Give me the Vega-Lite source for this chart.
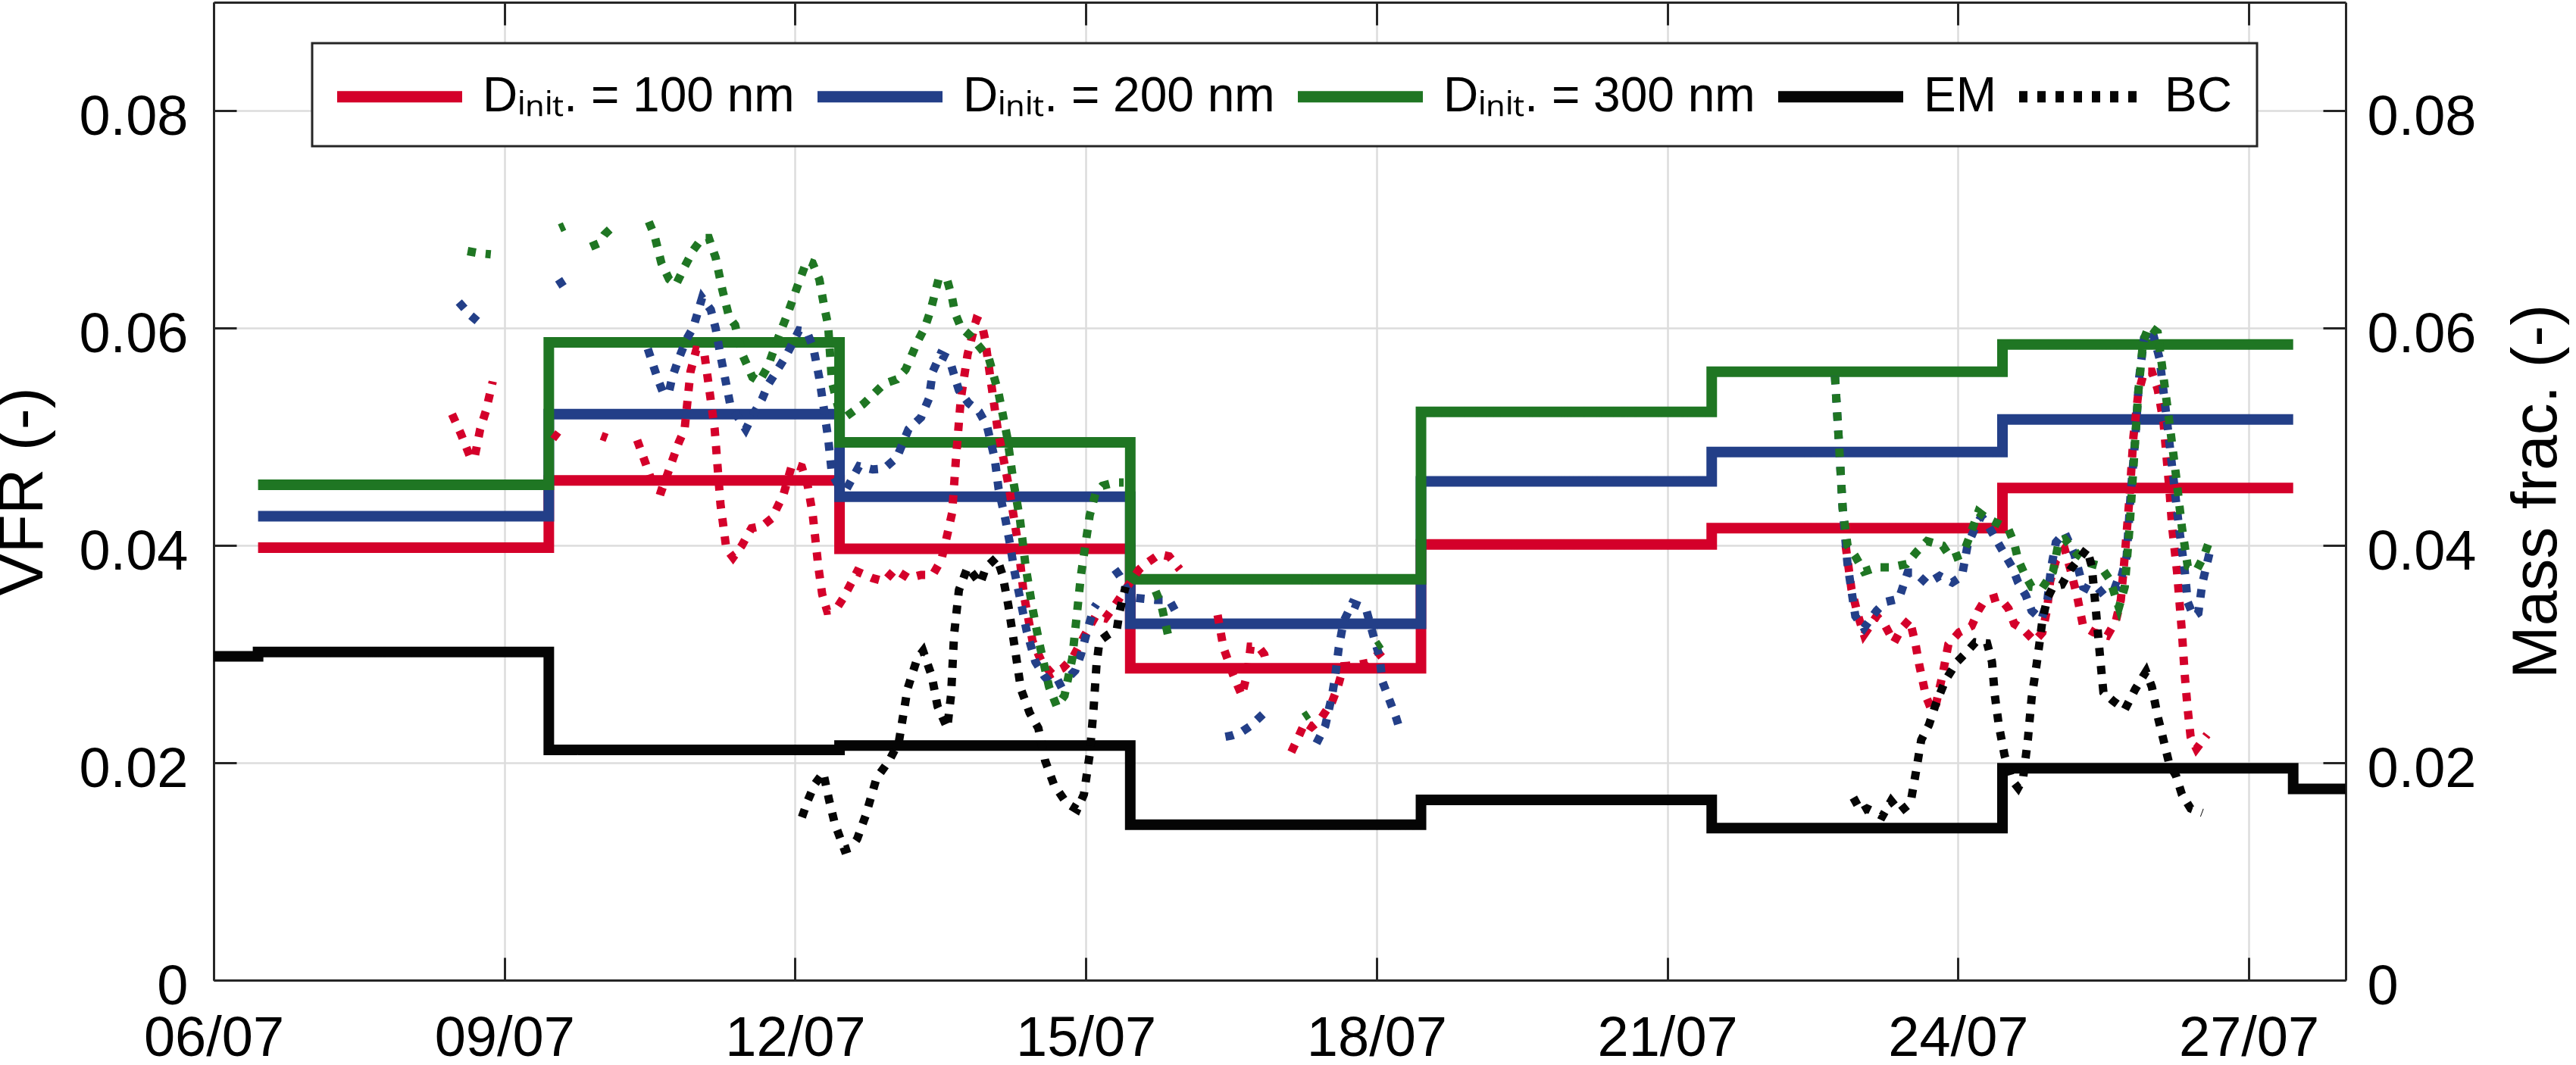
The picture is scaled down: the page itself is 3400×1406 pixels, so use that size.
{
  "$schema": "https://vega.github.io/schema/vega-lite/v6.json",
  "width": 2814,
  "height": 1291,
  "autosize": {"type": "none"},
  "padding": {"left": 282, "top": 3, "right": 304, "bottom": 112},
  "background": "white",
  "config": {
    "font": "Liberation Sans",
    "view": {"stroke": null},
    "axis": {
      "labelFont": "Liberation Sans",
      "titleFont": "Liberation Sans",
      "labelColor": "#000000",
      "titleColor": "#000000",
      "titleFontWeight": "normal",
      "domainColor": "#262626",
      "domainWidth": 3,
      "tickColor": "#262626",
      "tickWidth": 3,
      "tickSize": -30,
      "gridColor": "#dcdcdc",
      "gridWidth": 2.5,
      "labelFlush": false,
      "labelLimit": 1000
    },
    "legend": {"strokeWidth": 3}
  },
  "data": {
    "values": [
      {"t":"2016-07-06T11:00","v":0.0398,"s":"D100","g":"D100"},
      {"t":"2016-07-09T11:00","v":0.0460,"s":"D100","g":"D100"},
      {"t":"2016-07-12T11:00","v":0.0397,"s":"D100","g":"D100"},
      {"t":"2016-07-15T11:00","v":0.0287,"s":"D100","g":"D100"},
      {"t":"2016-07-18T11:00","v":0.0401,"s":"D100","g":"D100"},
      {"t":"2016-07-21T11:00","v":0.0416,"s":"D100","g":"D100"},
      {"t":"2016-07-24T11:00","v":0.0453,"s":"D100","g":"D100"},
      {"t":"2016-07-27T11:00","v":0.0453,"s":"D100","g":"D100"},
      {"t":"2016-07-06T11:00","v":0.0427,"s":"D200","g":"D200"},
      {"t":"2016-07-09T11:00","v":0.0521,"s":"D200","g":"D200"},
      {"t":"2016-07-12T11:00","v":0.0445,"s":"D200","g":"D200"},
      {"t":"2016-07-15T11:00","v":0.0328,"s":"D200","g":"D200"},
      {"t":"2016-07-18T11:00","v":0.0459,"s":"D200","g":"D200"},
      {"t":"2016-07-21T11:00","v":0.0486,"s":"D200","g":"D200"},
      {"t":"2016-07-24T11:00","v":0.0516,"s":"D200","g":"D200"},
      {"t":"2016-07-27T11:00","v":0.0516,"s":"D200","g":"D200"},
      {"t":"2016-07-06T11:00","v":0.0456,"s":"D300","g":"D300"},
      {"t":"2016-07-09T11:00","v":0.0587,"s":"D300","g":"D300"},
      {"t":"2016-07-12T11:00","v":0.0495,"s":"D300","g":"D300"},
      {"t":"2016-07-15T11:00","v":0.0369,"s":"D300","g":"D300"},
      {"t":"2016-07-18T11:00","v":0.0523,"s":"D300","g":"D300"},
      {"t":"2016-07-21T11:00","v":0.0560,"s":"D300","g":"D300"},
      {"t":"2016-07-24T11:00","v":0.0585,"s":"D300","g":"D300"},
      {"t":"2016-07-27T11:00","v":0.0585,"s":"D300","g":"D300"},
      {"t":"2016-07-06T00:00","v":0.0298,"s":"EM","g":"EM"},
      {"t":"2016-07-06T11:00","v":0.0302,"s":"EM","g":"EM"},
      {"t":"2016-07-09T11:00","v":0.0212,"s":"EM","g":"EM"},
      {"t":"2016-07-12T11:00","v":0.0216,"s":"EM","g":"EM"},
      {"t":"2016-07-15T11:00","v":0.0143,"s":"EM","g":"EM"},
      {"t":"2016-07-18T11:00","v":0.0166,"s":"EM","g":"EM"},
      {"t":"2016-07-21T11:00","v":0.0140,"s":"EM","g":"EM"},
      {"t":"2016-07-24T11:00","v":0.0195,"s":"EM","g":"EM"},
      {"t":"2016-07-27T11:00","v":0.0176,"s":"EM","g":"EM"},
      {"t":"2016-07-28T00:00","v":0.0176,"s":"EM","g":"EM"},

      {"t":"2016-07-08T11:02","v":0.0521,"s":"D100 BC","g":"r1"},
      {"t":"2016-07-08T13:12","v":0.0503,"s":"D100 BC","g":"r1"},
      {"t":"2016-07-08T15:22","v":0.0483,"s":"D100 BC","g":"r1"},
      {"t":"2016-07-08T16:34","v":0.0480,"s":"D100 BC","g":"r1"},
      {"t":"2016-07-08T18:00","v":0.0507,"s":"D100 BC","g":"r1"},
      {"t":"2016-07-08T19:26","v":0.0524,"s":"D100 BC","g":"r1"},
      {"t":"2016-07-08T21:07","v":0.0551,"s":"D100 BC","g":"r1"},
      {"t":"2016-07-09T12:00","v":0.0503,"s":"D100 BC","g":"r2"},
      {"t":"2016-07-09T13:26","v":0.0499,"s":"D100 BC","g":"r2"},
      {"t":"2016-07-10T00:00","v":0.0501,"s":"D100 BC","g":"r3"},
      {"t":"2016-07-10T01:26","v":0.0499,"s":"D100 BC","g":"r3"},
      {"t":"2016-07-10T08:53","v":0.0497,"s":"D100 BC","g":"r4"},
      {"t":"2016-07-10T11:02","v":0.0475,"s":"D100 BC","g":"r4"},
      {"t":"2016-07-10T13:12","v":0.0452,"s":"D100 BC","g":"r4"},
      {"t":"2016-07-10T14:53","v":0.0450,"s":"D100 BC","g":"r4"},
      {"t":"2016-07-10T16:48","v":0.0470,"s":"D100 BC","g":"r4"},
      {"t":"2016-07-10T19:12","v":0.0495,"s":"D100 BC","g":"r4"},
      {"t":"2016-07-10T20:38","v":0.0507,"s":"D100 BC","g":"r4"},
      {"t":"2016-07-10T22:05","v":0.0560,"s":"D100 BC","g":"r4"},
      {"t":"2016-07-10T23:31","v":0.0580,"s":"D100 BC","g":"r4"},
      {"t":"2016-07-11T01:26","v":0.0579,"s":"D100 BC","g":"r4"},
      {"t":"2016-07-11T02:53","v":0.0540,"s":"D100 BC","g":"r4"},
      {"t":"2016-07-11T04:05","v":0.0507,"s":"D100 BC","g":"r4"},
      {"t":"2016-07-11T05:31","v":0.0438,"s":"D100 BC","g":"r4"},
      {"t":"2016-07-11T06:58","v":0.0397,"s":"D100 BC","g":"r4"},
      {"t":"2016-07-11T08:38","v":0.0389,"s":"D100 BC","g":"r4"},
      {"t":"2016-07-11T10:48","v":0.0400,"s":"D100 BC","g":"r4"},
      {"t":"2016-07-11T13:12","v":0.0416,"s":"D100 BC","g":"r4"},
      {"t":"2016-07-11T15:50","v":0.0418,"s":"D100 BC","g":"r4"},
      {"t":"2016-07-11T18:14","v":0.0425,"s":"D100 BC","g":"r4"},
      {"t":"2016-07-11T21:07","v":0.0447,"s":"D100 BC","g":"r4"},
      {"t":"2016-07-11T23:17","v":0.0475,"s":"D100 BC","g":"r4"},
      {"t":"2016-07-12T01:41","v":0.0472,"s":"D100 BC","g":"r4"},
      {"t":"2016-07-12T03:07","v":0.0455,"s":"D100 BC","g":"r4"},
      {"t":"2016-07-12T04:19","v":0.0430,"s":"D100 BC","g":"r4"},
      {"t":"2016-07-12T05:46","v":0.0380,"s":"D100 BC","g":"r4"},
      {"t":"2016-07-12T06:43","v":0.0355,"s":"D100 BC","g":"r4"},
      {"t":"2016-07-12T07:55","v":0.0340,"s":"D100 BC","g":"r4"},
      {"t":"2016-07-12T10:05","v":0.0341,"s":"D100 BC","g":"r4"},
      {"t":"2016-07-12T12:00","v":0.0352,"s":"D100 BC","g":"r4"},
      {"t":"2016-07-12T15:22","v":0.0376,"s":"D100 BC","g":"r4"},
      {"t":"2016-07-12T19:12","v":0.0370,"s":"D100 BC","g":"r4"},
      {"t":"2016-07-12T22:05","v":0.0367,"s":"D100 BC","g":"r4"},
      {"t":"2016-07-13T00:43","v":0.0378,"s":"D100 BC","g":"r4"},
      {"t":"2016-07-13T04:05","v":0.0370,"s":"D100 BC","g":"r4"},
      {"t":"2016-07-13T07:12","v":0.0373,"s":"D100 BC","g":"r4"},
      {"t":"2016-07-13T10:05","v":0.0373,"s":"D100 BC","g":"r4"},
      {"t":"2016-07-13T12:14","v":0.0387,"s":"D100 BC","g":"r4"},
      {"t":"2016-07-13T13:41","v":0.0410,"s":"D100 BC","g":"r4"},
      {"t":"2016-07-13T14:53","v":0.0430,"s":"D100 BC","g":"r4"},
      {"t":"2016-07-13T15:50","v":0.0480,"s":"D100 BC","g":"r4"},
      {"t":"2016-07-13T17:02","v":0.0535,"s":"D100 BC","g":"r4"},
      {"t":"2016-07-13T18:43","v":0.0576,"s":"D100 BC","g":"r4"},
      {"t":"2016-07-13T20:53","v":0.0608,"s":"D100 BC","g":"r4"},
      {"t":"2016-07-13T22:05","v":0.0606,"s":"D100 BC","g":"r4"},
      {"t":"2016-07-13T23:02","v":0.0590,"s":"D100 BC","g":"r4"},
      {"t":"2016-07-14T00:29","v":0.0551,"s":"D100 BC","g":"r4"},
      {"t":"2016-07-14T02:10","v":0.0507,"s":"D100 BC","g":"r4"},
      {"t":"2016-07-14T03:36","v":0.0480,"s":"D100 BC","g":"r4"},
      {"t":"2016-07-14T05:02","v":0.0452,"s":"D100 BC","g":"r4"},
      {"t":"2016-07-14T07:12","v":0.0402,"s":"D100 BC","g":"r4"},
      {"t":"2016-07-14T08:38","v":0.0355,"s":"D100 BC","g":"r4"},
      {"t":"2016-07-14T10:48","v":0.0312,"s":"D100 BC","g":"r4"},
      {"t":"2016-07-14T13:12","v":0.0292,"s":"D100 BC","g":"r4"},
      {"t":"2016-07-14T15:36","v":0.0282,"s":"D100 BC","g":"r4"},
      {"t":"2016-07-14T18:14","v":0.0287,"s":"D100 BC","g":"r4"},
      {"t":"2016-07-14T20:38","v":0.0296,"s":"D100 BC","g":"r4"},
      {"t":"2016-07-14T23:31","v":0.0316,"s":"D100 BC","g":"r4"},
      {"t":"2016-07-15T02:24","v":0.0335,"s":"D100 BC","g":"r4"},
      {"t":"2016-07-15T04:48","v":0.0333,"s":"D100 BC","g":"r4"},
      {"t":"2016-07-15T07:12","v":0.0345,"s":"D100 BC","g":"r4"},
      {"t":"2016-07-15T08:38","v":0.0353,"s":"D100 BC","g":"r4"},
      {"t":"2016-07-15T10:48","v":0.0365,"s":"D100 BC","g":"r4"},
      {"t":"2016-07-15T13:12","v":0.0378,"s":"D100 BC","g":"r4"},
      {"t":"2016-07-15T15:07","v":0.0384,"s":"D100 BC","g":"r4"},
      {"t":"2016-07-15T18:14","v":0.0392,"s":"D100 BC","g":"r4"},
      {"t":"2016-07-15T20:38","v":0.0390,"s":"D100 BC","g":"r4"},
      {"t":"2016-07-15T23:17","v":0.0378,"s":"D100 BC","g":"r4"},
      {"t":"2016-07-16T08:38","v":0.0336,"s":"D100 BC","g":"r5"},
      {"t":"2016-07-16T10:05","v":0.0306,"s":"D100 BC","g":"r5"},
      {"t":"2016-07-16T12:29","v":0.0281,"s":"D100 BC","g":"r5"},
      {"t":"2016-07-16T14:38","v":0.0262,"s":"D100 BC","g":"r5"},
      {"t":"2016-07-16T16:05","v":0.0284,"s":"D100 BC","g":"r5"},
      {"t":"2016-07-16T16:48","v":0.0307,"s":"D100 BC","g":"r5"},
      {"t":"2016-07-16T18:43","v":0.0307,"s":"D100 BC","g":"r5"},
      {"t":"2016-07-16T20:10","v":0.0300,"s":"D100 BC","g":"r5"},
      {"t":"2016-07-16T21:22","v":0.0284,"s":"D100 BC","g":"r5"},
      {"t":"2016-07-17T02:53","v":0.0210,"s":"D100 BC","g":"r6"},
      {"t":"2016-07-17T04:48","v":0.0225,"s":"D100 BC","g":"r6"},
      {"t":"2016-07-17T06:14","v":0.0237,"s":"D100 BC","g":"r6"},
      {"t":"2016-07-17T07:55","v":0.0233,"s":"D100 BC","g":"r6"},
      {"t":"2016-07-17T10:05","v":0.0240,"s":"D100 BC","g":"r6"},
      {"t":"2016-07-17T12:58","v":0.0256,"s":"D100 BC","g":"r6"},
      {"t":"2016-07-17T14:24","v":0.0270,"s":"D100 BC","g":"r6"},
      {"t":"2016-07-17T15:50","v":0.0289,"s":"D100 BC","g":"r6"},
      {"t":"2016-07-17T19:12","v":0.0290,"s":"D100 BC","g":"r6"},
      {"t":"2016-07-17T21:50","v":0.0292,"s":"D100 BC","g":"r6"},
      {"t":"2016-07-18T01:26","v":0.0303,"s":"D100 BC","g":"r6"},
      {"t":"2016-07-22T20:10","v":0.0400,"s":"D100 BC","g":"r7"},
      {"t":"2016-07-22T21:36","v":0.0360,"s":"D100 BC","g":"r7"},
      {"t":"2016-07-22T23:17","v":0.0335,"s":"D100 BC","g":"r7"},
      {"t":"2016-07-23T00:43","v":0.0318,"s":"D100 BC","g":"r7"},
      {"t":"2016-07-23T03:50","v":0.0335,"s":"D100 BC","g":"r7"},
      {"t":"2016-07-23T06:00","v":0.0326,"s":"D100 BC","g":"r7"},
      {"t":"2016-07-23T08:10","v":0.0311,"s":"D100 BC","g":"r7"},
      {"t":"2016-07-23T10:05","v":0.0324,"s":"D100 BC","g":"r7"},
      {"t":"2016-07-23T12:00","v":0.0332,"s":"D100 BC","g":"r7"},
      {"t":"2016-07-23T13:26","v":0.0310,"s":"D100 BC","g":"r7"},
      {"t":"2016-07-23T14:24","v":0.0290,"s":"D100 BC","g":"r7"},
      {"t":"2016-07-23T16:05","v":0.0261,"s":"D100 BC","g":"r7"},
      {"t":"2016-07-23T17:17","v":0.0250,"s":"D100 BC","g":"r7"},
      {"t":"2016-07-23T18:14","v":0.0249,"s":"D100 BC","g":"r7"},
      {"t":"2016-07-23T20:10","v":0.0281,"s":"D100 BC","g":"r7"},
      {"t":"2016-07-23T21:36","v":0.0309,"s":"D100 BC","g":"r7"},
      {"t":"2016-07-24T00:14","v":0.0320,"s":"D100 BC","g":"r7"},
      {"t":"2016-07-24T03:22","v":0.0326,"s":"D100 BC","g":"r7"},
      {"t":"2016-07-24T05:02","v":0.0340,"s":"D100 BC","g":"r7"},
      {"t":"2016-07-24T06:29","v":0.0349,"s":"D100 BC","g":"r7"},
      {"t":"2016-07-24T10:05","v":0.0353,"s":"D100 BC","g":"r7"},
      {"t":"2016-07-24T12:29","v":0.0342,"s":"D100 BC","g":"r7"},
      {"t":"2016-07-24T13:55","v":0.0328,"s":"D100 BC","g":"r7"},
      {"t":"2016-07-24T16:05","v":0.0323,"s":"D100 BC","g":"r7"},
      {"t":"2016-07-24T18:58","v":0.0312,"s":"D100 BC","g":"r7"},
      {"t":"2016-07-24T20:53","v":0.0320,"s":"D100 BC","g":"r7"},
      {"t":"2016-07-24T22:05","v":0.0342,"s":"D100 BC","g":"r7"},
      {"t":"2016-07-24T22:48","v":0.0367,"s":"D100 BC","g":"r7"},
      {"t":"2016-07-25T00:14","v":0.0386,"s":"D100 BC","g":"r7"},
      {"t":"2016-07-25T02:24","v":0.0397,"s":"D100 BC","g":"r7"},
      {"t":"2016-07-25T03:50","v":0.0378,"s":"D100 BC","g":"r7"},
      {"t":"2016-07-25T05:31","v":0.0353,"s":"D100 BC","g":"r7"},
      {"t":"2016-07-25T06:58","v":0.0326,"s":"D100 BC","g":"r7"},
      {"t":"2016-07-25T09:36","v":0.0320,"s":"D100 BC","g":"r7"},
      {"t":"2016-07-25T12:58","v":0.0317,"s":"D100 BC","g":"r7"},
      {"t":"2016-07-25T15:07","v":0.0331,"s":"D100 BC","g":"r7"},
      {"t":"2016-07-25T16:19","v":0.0350,"s":"D100 BC","g":"r7"},
      {"t":"2016-07-25T17:17","v":0.0390,"s":"D100 BC","g":"r7"},
      {"t":"2016-07-25T18:29","v":0.0445,"s":"D100 BC","g":"r7"},
      {"t":"2016-07-25T19:26","v":0.0500,"s":"D100 BC","g":"r7"},
      {"t":"2016-07-25T20:38","v":0.0540,"s":"D100 BC","g":"r7"},
      {"t":"2016-07-25T22:05","v":0.0560,"s":"D100 BC","g":"r7"},
      {"t":"2016-07-26T00:00","v":0.0560,"s":"D100 BC","g":"r7"},
      {"t":"2016-07-26T01:26","v":0.0544,"s":"D100 BC","g":"r7"},
      {"t":"2016-07-26T02:53","v":0.0514,"s":"D100 BC","g":"r7"},
      {"t":"2016-07-26T03:36","v":0.0483,"s":"D100 BC","g":"r7"},
      {"t":"2016-07-26T04:19","v":0.0453,"s":"D100 BC","g":"r7"},
      {"t":"2016-07-26T05:02","v":0.0417,"s":"D100 BC","g":"r7"},
      {"t":"2016-07-26T06:14","v":0.0376,"s":"D100 BC","g":"r7"},
      {"t":"2016-07-26T07:26","v":0.0321,"s":"D100 BC","g":"r7"},
      {"t":"2016-07-26T08:10","v":0.0280,"s":"D100 BC","g":"r7"},
      {"t":"2016-07-26T08:53","v":0.0249,"s":"D100 BC","g":"r7"},
      {"t":"2016-07-26T09:36","v":0.0224,"s":"D100 BC","g":"r7"},
      {"t":"2016-07-26T11:02","v":0.0213,"s":"D100 BC","g":"r7"},
      {"t":"2016-07-26T13:41","v":0.0226,"s":"D100 BC","g":"r7"},

      {"t":"2016-07-08T12:43","v":0.0624,"s":"D200 BC","g":"b1"},
      {"t":"2016-07-08T15:36","v":0.0612,"s":"D200 BC","g":"b1"},
      {"t":"2016-07-08T18:43","v":0.0602,"s":"D200 BC","g":"b1"},
      {"t":"2016-07-09T13:26","v":0.0645,"s":"D200 BC","g":"b2"},
      {"t":"2016-07-09T14:38","v":0.0638,"s":"D200 BC","g":"b2"},
      {"t":"2016-07-10T11:31","v":0.0581,"s":"D200 BC","g":"b3"},
      {"t":"2016-07-10T13:55","v":0.0554,"s":"D200 BC","g":"b3"},
      {"t":"2016-07-10T15:22","v":0.0540,"s":"D200 BC","g":"b3"},
      {"t":"2016-07-10T16:48","v":0.0542,"s":"D200 BC","g":"b3"},
      {"t":"2016-07-10T17:31","v":0.0554,"s":"D200 BC","g":"b3"},
      {"t":"2016-07-10T18:58","v":0.0570,"s":"D200 BC","g":"b3"},
      {"t":"2016-07-10T21:07","v":0.0590,"s":"D200 BC","g":"b3"},
      {"t":"2016-07-10T22:48","v":0.0601,"s":"D200 BC","g":"b3"},
      {"t":"2016-07-11T00:58","v":0.0628,"s":"D200 BC","g":"b3"},
      {"t":"2016-07-11T03:07","v":0.0617,"s":"D200 BC","g":"b3"},
      {"t":"2016-07-11T04:19","v":0.0600,"s":"D200 BC","g":"b3"},
      {"t":"2016-07-11T05:31","v":0.0575,"s":"D200 BC","g":"b3"},
      {"t":"2016-07-11T06:58","v":0.0548,"s":"D200 BC","g":"b3"},
      {"t":"2016-07-11T07:55","v":0.0530,"s":"D200 BC","g":"b3"},
      {"t":"2016-07-11T09:50","v":0.0518,"s":"D200 BC","g":"b3"},
      {"t":"2016-07-11T11:46","v":0.0507,"s":"D200 BC","g":"b3"},
      {"t":"2016-07-11T13:41","v":0.0521,"s":"D200 BC","g":"b3"},
      {"t":"2016-07-11T15:50","v":0.0535,"s":"D200 BC","g":"b3"},
      {"t":"2016-07-11T17:17","v":0.0548,"s":"D200 BC","g":"b3"},
      {"t":"2016-07-11T19:41","v":0.0562,"s":"D200 BC","g":"b3"},
      {"t":"2016-07-11T21:50","v":0.0575,"s":"D200 BC","g":"b3"},
      {"t":"2016-07-12T00:58","v":0.0598,"s":"D200 BC","g":"b3"},
      {"t":"2016-07-12T02:53","v":0.0597,"s":"D200 BC","g":"b3"},
      {"t":"2016-07-12T04:34","v":0.0581,"s":"D200 BC","g":"b3"},
      {"t":"2016-07-12T06:00","v":0.0554,"s":"D200 BC","g":"b3"},
      {"t":"2016-07-12T06:58","v":0.0530,"s":"D200 BC","g":"b3"},
      {"t":"2016-07-12T08:10","v":0.0499,"s":"D200 BC","g":"b3"},
      {"t":"2016-07-12T09:07","v":0.0466,"s":"D200 BC","g":"b3"},
      {"t":"2016-07-12T10:48","v":0.0455,"s":"D200 BC","g":"b3"},
      {"t":"2016-07-12T12:43","v":0.0452,"s":"D200 BC","g":"b3"},
      {"t":"2016-07-12T15:50","v":0.0473,"s":"D200 BC","g":"b3"},
      {"t":"2016-07-12T19:12","v":0.0470,"s":"D200 BC","g":"b3"},
      {"t":"2016-07-12T22:05","v":0.0471,"s":"D200 BC","g":"b3"},
      {"t":"2016-07-13T01:12","v":0.0481,"s":"D200 BC","g":"b3"},
      {"t":"2016-07-13T04:05","v":0.0507,"s":"D200 BC","g":"b3"},
      {"t":"2016-07-13T07:12","v":0.0518,"s":"D200 BC","g":"b3"},
      {"t":"2016-07-13T09:07","v":0.0535,"s":"D200 BC","g":"b3"},
      {"t":"2016-07-13T10:05","v":0.0560,"s":"D200 BC","g":"b3"},
      {"t":"2016-07-13T12:00","v":0.0576,"s":"D200 BC","g":"b3"},
      {"t":"2016-07-13T14:10","v":0.0572,"s":"D200 BC","g":"b3"},
      {"t":"2016-07-13T15:22","v":0.0557,"s":"D200 BC","g":"b3"},
      {"t":"2016-07-13T16:34","v":0.0543,"s":"D200 BC","g":"b3"},
      {"t":"2016-07-13T18:58","v":0.0531,"s":"D200 BC","g":"b3"},
      {"t":"2016-07-13T21:36","v":0.0523,"s":"D200 BC","g":"b3"},
      {"t":"2016-07-13T23:31","v":0.0510,"s":"D200 BC","g":"b3"},
      {"t":"2016-07-14T01:26","v":0.0480,"s":"D200 BC","g":"b3"},
      {"t":"2016-07-14T02:24","v":0.0452,"s":"D200 BC","g":"b3"},
      {"t":"2016-07-14T04:05","v":0.0424,"s":"D200 BC","g":"b3"},
      {"t":"2016-07-14T05:17","v":0.0400,"s":"D200 BC","g":"b3"},
      {"t":"2016-07-14T06:14","v":0.0378,"s":"D200 BC","g":"b3"},
      {"t":"2016-07-14T07:41","v":0.0352,"s":"D200 BC","g":"b3"},
      {"t":"2016-07-14T09:22","v":0.0321,"s":"D200 BC","g":"b3"},
      {"t":"2016-07-14T11:31","v":0.0293,"s":"D200 BC","g":"b3"},
      {"t":"2016-07-14T13:41","v":0.0280,"s":"D200 BC","g":"b3"},
      {"t":"2016-07-14T16:05","v":0.0270,"s":"D200 BC","g":"b3"},
      {"t":"2016-07-14T18:43","v":0.0275,"s":"D200 BC","g":"b3"},
      {"t":"2016-07-14T21:22","v":0.0285,"s":"D200 BC","g":"b3"},
      {"t":"2016-07-14T22:48","v":0.0300,"s":"D200 BC","g":"b3"},
      {"t":"2016-07-15T00:14","v":0.0320,"s":"D200 BC","g":"b3"},
      {"t":"2016-07-15T01:55","v":0.0342,"s":"D200 BC","g":"b3"},
      {"t":"2016-07-15T02:38","v":0.0346,"s":"D200 BC","g":"b3"},
      {"t":"2016-07-15T07:12","v":0.0378,"s":"D200 BC","g":"b4"},
      {"t":"2016-07-15T08:24","v":0.0372,"s":"D200 BC","g":"b4"},
      {"t":"2016-07-15T10:05","v":0.0360,"s":"D200 BC","g":"b4"},
      {"t":"2016-07-15T12:00","v":0.0352,"s":"D200 BC","g":"b4"},
      {"t":"2016-07-15T14:24","v":0.0351,"s":"D200 BC","g":"b4"},
      {"t":"2016-07-15T17:17","v":0.0350,"s":"D200 BC","g":"b4"},
      {"t":"2016-07-15T20:38","v":0.0350,"s":"D200 BC","g":"b4"},
      {"t":"2016-07-15T22:34","v":0.0337,"s":"D200 BC","g":"b4"},
      {"t":"2016-07-16T10:34","v":0.0224,"s":"D200 BC","g":"b5"},
      {"t":"2016-07-16T12:00","v":0.0225,"s":"D200 BC","g":"b5"},
      {"t":"2016-07-16T14:24","v":0.0228,"s":"D200 BC","g":"b5"},
      {"t":"2016-07-16T16:48","v":0.0234,"s":"D200 BC","g":"b5"},
      {"t":"2016-07-16T19:55","v":0.0245,"s":"D200 BC","g":"b5"},
      {"t":"2016-07-17T09:07","v":0.0218,"s":"D200 BC","g":"b6"},
      {"t":"2016-07-17T11:17","v":0.0234,"s":"D200 BC","g":"b6"},
      {"t":"2016-07-17T12:58","v":0.0262,"s":"D200 BC","g":"b6"},
      {"t":"2016-07-17T13:41","v":0.0278,"s":"D200 BC","g":"b6"},
      {"t":"2016-07-17T14:38","v":0.0306,"s":"D200 BC","g":"b6"},
      {"t":"2016-07-17T15:50","v":0.0330,"s":"D200 BC","g":"b6"},
      {"t":"2016-07-17T18:00","v":0.0347,"s":"D200 BC","g":"b6"},
      {"t":"2016-07-17T21:22","v":0.0342,"s":"D200 BC","g":"b6"},
      {"t":"2016-07-17T23:31","v":0.0313,"s":"D200 BC","g":"b6"},
      {"t":"2016-07-18T00:43","v":0.0298,"s":"D200 BC","g":"b6"},
      {"t":"2016-07-18T01:26","v":0.0275,"s":"D200 BC","g":"b6"},
      {"t":"2016-07-18T03:22","v":0.0256,"s":"D200 BC","g":"b6"},
      {"t":"2016-07-18T04:48","v":0.0242,"s":"D200 BC","g":"b6"},
      {"t":"2016-07-18T06:00","v":0.0228,"s":"D200 BC","g":"b6"},
      {"t":"2016-07-22T17:31","v":0.0556,"s":"D200 BC","g":"b7"},
      {"t":"2016-07-22T18:29","v":0.0496,"s":"D200 BC","g":"b7"},
      {"t":"2016-07-22T19:26","v":0.0434,"s":"D200 BC","g":"b7"},
      {"t":"2016-07-22T20:38","v":0.0383,"s":"D200 BC","g":"b7"},
      {"t":"2016-07-22T22:34","v":0.0335,"s":"D200 BC","g":"b7"},
      {"t":"2016-07-23T00:43","v":0.0324,"s":"D200 BC","g":"b7"},
      {"t":"2016-07-23T03:50","v":0.0340,"s":"D200 BC","g":"b7"},
      {"t":"2016-07-23T06:00","v":0.0348,"s":"D200 BC","g":"b7"},
      {"t":"2016-07-23T09:22","v":0.0351,"s":"D200 BC","g":"b7"},
      {"t":"2016-07-23T11:31","v":0.0375,"s":"D200 BC","g":"b7"},
      {"t":"2016-07-23T13:26","v":0.0375,"s":"D200 BC","g":"b7"},
      {"t":"2016-07-23T16:19","v":0.0365,"s":"D200 BC","g":"b7"},
      {"t":"2016-07-23T19:26","v":0.0372,"s":"D200 BC","g":"b7"},
      {"t":"2016-07-23T22:34","v":0.0366,"s":"D200 BC","g":"b7"},
      {"t":"2016-07-24T00:58","v":0.0372,"s":"D200 BC","g":"b7"},
      {"t":"2016-07-24T02:24","v":0.0401,"s":"D200 BC","g":"b7"},
      {"t":"2016-07-24T04:19","v":0.0417,"s":"D200 BC","g":"b7"},
      {"t":"2016-07-24T05:46","v":0.0427,"s":"D200 BC","g":"b7"},
      {"t":"2016-07-24T07:12","v":0.0420,"s":"D200 BC","g":"b7"},
      {"t":"2016-07-24T09:22","v":0.0406,"s":"D200 BC","g":"b7"},
      {"t":"2016-07-24T11:31","v":0.0392,"s":"D200 BC","g":"b7"},
      {"t":"2016-07-24T13:26","v":0.0380,"s":"D200 BC","g":"b7"},
      {"t":"2016-07-24T14:53","v":0.0366,"s":"D200 BC","g":"b7"},
      {"t":"2016-07-24T16:48","v":0.0354,"s":"D200 BC","g":"b7"},
      {"t":"2016-07-24T18:14","v":0.0340,"s":"D200 BC","g":"b7"},
      {"t":"2016-07-24T20:38","v":0.0332,"s":"D200 BC","g":"b7"},
      {"t":"2016-07-24T22:05","v":0.0348,"s":"D200 BC","g":"b7"},
      {"t":"2016-07-24T23:02","v":0.0379,"s":"D200 BC","g":"b7"},
      {"t":"2016-07-25T00:14","v":0.0403,"s":"D200 BC","g":"b7"},
      {"t":"2016-07-25T02:24","v":0.0412,"s":"D200 BC","g":"b7"},
      {"t":"2016-07-25T04:48","v":0.0392,"s":"D200 BC","g":"b7"},
      {"t":"2016-07-25T06:58","v":0.0362,"s":"D200 BC","g":"b7"},
      {"t":"2016-07-25T10:34","v":0.0355,"s":"D200 BC","g":"b7"},
      {"t":"2016-07-25T13:41","v":0.0365,"s":"D200 BC","g":"b7"},
      {"t":"2016-07-25T15:50","v":0.0362,"s":"D200 BC","g":"b7"},
      {"t":"2016-07-25T17:46","v":0.0390,"s":"D200 BC","g":"b7"},
      {"t":"2016-07-25T18:43","v":0.0445,"s":"D200 BC","g":"b7"},
      {"t":"2016-07-25T19:55","v":0.0500,"s":"D200 BC","g":"b7"},
      {"t":"2016-07-25T20:53","v":0.0555,"s":"D200 BC","g":"b7"},
      {"t":"2016-07-25T22:05","v":0.0591,"s":"D200 BC","g":"b7"},
      {"t":"2016-07-26T00:00","v":0.0599,"s":"D200 BC","g":"b7"},
      {"t":"2016-07-26T01:55","v":0.0572,"s":"D200 BC","g":"b7"},
      {"t":"2016-07-26T03:22","v":0.0527,"s":"D200 BC","g":"b7"},
      {"t":"2016-07-26T05:02","v":0.0472,"s":"D200 BC","g":"b7"},
      {"t":"2016-07-26T06:43","v":0.0417,"s":"D200 BC","g":"b7"},
      {"t":"2016-07-26T08:10","v":0.0376,"s":"D200 BC","g":"b7"},
      {"t":"2016-07-26T08:53","v":0.0348,"s":"D200 BC","g":"b7"},
      {"t":"2016-07-26T10:19","v":0.0335,"s":"D200 BC","g":"b7"},
      {"t":"2016-07-26T11:31","v":0.0338,"s":"D200 BC","g":"b7"},
      {"t":"2016-07-26T12:29","v":0.0365,"s":"D200 BC","g":"b7"},
      {"t":"2016-07-26T14:24","v":0.0395,"s":"D200 BC","g":"b7"},

      {"t":"2016-07-08T14:53","v":0.0671,"s":"D300 BC","g":"g1"},
      {"t":"2016-07-08T17:46","v":0.0669,"s":"D300 BC","g":"g1"},
      {"t":"2016-07-08T20:38","v":0.0668,"s":"D300 BC","g":"g1"},
      {"t":"2016-07-09T13:41","v":0.0692,"s":"D300 BC","g":"g2"},
      {"t":"2016-07-09T14:53","v":0.0694,"s":"D300 BC","g":"g2"},
      {"t":"2016-07-09T21:22","v":0.0675,"s":"D300 BC","g":"g3"},
      {"t":"2016-07-09T23:17","v":0.0678,"s":"D300 BC","g":"g3"},
      {"t":"2016-07-10T00:43","v":0.0686,"s":"D300 BC","g":"g3"},
      {"t":"2016-07-10T02:24","v":0.0692,"s":"D300 BC","g":"g3"},
      {"t":"2016-07-10T11:46","v":0.0698,"s":"D300 BC","g":"g4"},
      {"t":"2016-07-10T13:12","v":0.0685,"s":"D300 BC","g":"g4"},
      {"t":"2016-07-10T14:53","v":0.0660,"s":"D300 BC","g":"g4"},
      {"t":"2016-07-10T16:48","v":0.0645,"s":"D300 BC","g":"g4"},
      {"t":"2016-07-10T18:29","v":0.0640,"s":"D300 BC","g":"g4"},
      {"t":"2016-07-10T20:24","v":0.0655,"s":"D300 BC","g":"g4"},
      {"t":"2016-07-10T22:48","v":0.0672,"s":"D300 BC","g":"g4"},
      {"t":"2016-07-11T00:58","v":0.0683,"s":"D300 BC","g":"g4"},
      {"t":"2016-07-11T02:38","v":0.0683,"s":"D300 BC","g":"g4"},
      {"t":"2016-07-11T04:19","v":0.0665,"s":"D300 BC","g":"g4"},
      {"t":"2016-07-11T06:00","v":0.0635,"s":"D300 BC","g":"g4"},
      {"t":"2016-07-11T07:41","v":0.0610,"s":"D300 BC","g":"g4"},
      {"t":"2016-07-11T09:07","v":0.0603,"s":"D300 BC","g":"g4"},
      {"t":"2016-07-11T11:02","v":0.0575,"s":"D300 BC","g":"g4"},
      {"t":"2016-07-11T13:26","v":0.0555,"s":"D300 BC","g":"g4"},
      {"t":"2016-07-11T15:07","v":0.0551,"s":"D300 BC","g":"g4"},
      {"t":"2016-07-11T17:17","v":0.0565,"s":"D300 BC","g":"g4"},
      {"t":"2016-07-11T19:41","v":0.0590,"s":"D300 BC","g":"g4"},
      {"t":"2016-07-11T22:19","v":0.0615,"s":"D300 BC","g":"g4"},
      {"t":"2016-07-12T00:43","v":0.0640,"s":"D300 BC","g":"g4"},
      {"t":"2016-07-12T02:53","v":0.0662,"s":"D300 BC","g":"g4"},
      {"t":"2016-07-12T04:19","v":0.0660,"s":"D300 BC","g":"g4"},
      {"t":"2016-07-12T06:00","v":0.0645,"s":"D300 BC","g":"g4"},
      {"t":"2016-07-12T07:12","v":0.0620,"s":"D300 BC","g":"g4"},
      {"t":"2016-07-12T08:10","v":0.0603,"s":"D300 BC","g":"g4"},
      {"t":"2016-07-12T09:07","v":0.0551,"s":"D300 BC","g":"g4"},
      {"t":"2016-07-12T10:48","v":0.0525,"s":"D300 BC","g":"g4"},
      {"t":"2016-07-12T12:43","v":0.0519,"s":"D300 BC","g":"g4"},
      {"t":"2016-07-12T16:48","v":0.0530,"s":"D300 BC","g":"g4"},
      {"t":"2016-07-12T22:05","v":0.0549,"s":"D300 BC","g":"g4"},
      {"t":"2016-07-13T01:12","v":0.0553,"s":"D300 BC","g":"g4"},
      {"t":"2016-07-13T03:22","v":0.0562,"s":"D300 BC","g":"g4"},
      {"t":"2016-07-13T06:14","v":0.0587,"s":"D300 BC","g":"g4"},
      {"t":"2016-07-13T08:10","v":0.0601,"s":"D300 BC","g":"g4"},
      {"t":"2016-07-13T09:36","v":0.0617,"s":"D300 BC","g":"g4"},
      {"t":"2016-07-13T11:31","v":0.0645,"s":"D300 BC","g":"g4"},
      {"t":"2016-07-13T13:41","v":0.0644,"s":"D300 BC","g":"g4"},
      {"t":"2016-07-13T14:53","v":0.0628,"s":"D300 BC","g":"g4"},
      {"t":"2016-07-13T15:36","v":0.0614,"s":"D300 BC","g":"g4"},
      {"t":"2016-07-13T17:02","v":0.0601,"s":"D300 BC","g":"g4"},
      {"t":"2016-07-13T19:41","v":0.0592,"s":"D300 BC","g":"g4"},
      {"t":"2016-07-13T22:05","v":0.0581,"s":"D300 BC","g":"g4"},
      {"t":"2016-07-14T00:00","v":0.0572,"s":"D300 BC","g":"g4"},
      {"t":"2016-07-14T02:24","v":0.0540,"s":"D300 BC","g":"g4"},
      {"t":"2016-07-14T04:34","v":0.0499,"s":"D300 BC","g":"g4"},
      {"t":"2016-07-14T06:00","v":0.0460,"s":"D300 BC","g":"g4"},
      {"t":"2016-07-14T07:41","v":0.0424,"s":"D300 BC","g":"g4"},
      {"t":"2016-07-14T09:07","v":0.0380,"s":"D300 BC","g":"g4"},
      {"t":"2016-07-14T10:48","v":0.0342,"s":"D300 BC","g":"g4"},
      {"t":"2016-07-14T12:29","v":0.0310,"s":"D300 BC","g":"g4"},
      {"t":"2016-07-14T14:53","v":0.0270,"s":"D300 BC","g":"g4"},
      {"t":"2016-07-14T16:48","v":0.0252,"s":"D300 BC","g":"g4"},
      {"t":"2016-07-14T18:43","v":0.0262,"s":"D300 BC","g":"g4"},
      {"t":"2016-07-14T20:38","v":0.0296,"s":"D300 BC","g":"g4"},
      {"t":"2016-07-14T22:48","v":0.0373,"s":"D300 BC","g":"g4"},
      {"t":"2016-07-15T00:58","v":0.0428,"s":"D300 BC","g":"g4"},
      {"t":"2016-07-15T02:24","v":0.0448,"s":"D300 BC","g":"g4"},
      {"t":"2016-07-15T04:05","v":0.0455,"s":"D300 BC","g":"g4"},
      {"t":"2016-07-15T07:12","v":0.0458,"s":"D300 BC","g":"g4"},
      {"t":"2016-07-15T09:22","v":0.0458,"s":"D300 BC","g":"g4"},
      {"t":"2016-07-15T17:17","v":0.0358,"s":"D300 BC","g":"g5"},
      {"t":"2016-07-15T18:43","v":0.0345,"s":"D300 BC","g":"g5"},
      {"t":"2016-07-15T20:38","v":0.0313,"s":"D300 BC","g":"g5"},
      {"t":"2016-07-17T06:00","v":0.0242,"s":"D300 BC","g":"g6"},
      {"t":"2016-07-17T07:12","v":0.0245,"s":"D300 BC","g":"g6"},
      {"t":"2016-07-18T00:00","v":0.0307,"s":"D300 BC","g":"g7"},
      {"t":"2016-07-18T01:12","v":0.0310,"s":"D300 BC","g":"g7"},
      {"t":"2016-07-22T17:31","v":0.0556,"s":"D300 BC","g":"g8"},
      {"t":"2016-07-22T18:29","v":0.0496,"s":"D300 BC","g":"g8"},
      {"t":"2016-07-22T19:26","v":0.0434,"s":"D300 BC","g":"g8"},
      {"t":"2016-07-22T20:38","v":0.0400,"s":"D300 BC","g":"g8"},
      {"t":"2016-07-22T22:34","v":0.0390,"s":"D300 BC","g":"g8"},
      {"t":"2016-07-23T00:43","v":0.0376,"s":"D300 BC","g":"g8"},
      {"t":"2016-07-23T03:50","v":0.0380,"s":"D300 BC","g":"g8"},
      {"t":"2016-07-23T07:26","v":0.0380,"s":"D300 BC","g":"g8"},
      {"t":"2016-07-23T11:17","v":0.0383,"s":"D300 BC","g":"g8"},
      {"t":"2016-07-23T13:41","v":0.0394,"s":"D300 BC","g":"g8"},
      {"t":"2016-07-23T16:19","v":0.0404,"s":"D300 BC","g":"g8"},
      {"t":"2016-07-23T20:10","v":0.0400,"s":"D300 BC","g":"g8"},
      {"t":"2016-07-23T22:19","v":0.0388,"s":"D300 BC","g":"g8"},
      {"t":"2016-07-24T01:12","v":0.0392,"s":"D300 BC","g":"g8"},
      {"t":"2016-07-24T02:38","v":0.0406,"s":"D300 BC","g":"g8"},
      {"t":"2016-07-24T05:02","v":0.0431,"s":"D300 BC","g":"g8"},
      {"t":"2016-07-24T07:12","v":0.0425,"s":"D300 BC","g":"g8"},
      {"t":"2016-07-24T10:05","v":0.0420,"s":"D300 BC","g":"g8"},
      {"t":"2016-07-24T12:29","v":0.0415,"s":"D300 BC","g":"g8"},
      {"t":"2016-07-24T13:55","v":0.0402,"s":"D300 BC","g":"g8"},
      {"t":"2016-07-24T14:53","v":0.0387,"s":"D300 BC","g":"g8"},
      {"t":"2016-07-24T16:34","v":0.0373,"s":"D300 BC","g":"g8"},
      {"t":"2016-07-24T18:14","v":0.0362,"s":"D300 BC","g":"g8"},
      {"t":"2016-07-24T20:53","v":0.0361,"s":"D300 BC","g":"g8"},
      {"t":"2016-07-24T23:31","v":0.0376,"s":"D300 BC","g":"g8"},
      {"t":"2016-07-25T00:58","v":0.0404,"s":"D300 BC","g":"g8"},
      {"t":"2016-07-25T02:24","v":0.0406,"s":"D300 BC","g":"g8"},
      {"t":"2016-07-25T05:31","v":0.0392,"s":"D300 BC","g":"g8"},
      {"t":"2016-07-25T08:24","v":0.0384,"s":"D300 BC","g":"g8"},
      {"t":"2016-07-25T11:17","v":0.0381,"s":"D300 BC","g":"g8"},
      {"t":"2016-07-25T13:41","v":0.0368,"s":"D300 BC","g":"g8"},
      {"t":"2016-07-25T15:50","v":0.0343,"s":"D300 BC","g":"g8"},
      {"t":"2016-07-25T17:17","v":0.0362,"s":"D300 BC","g":"g8"},
      {"t":"2016-07-25T18:29","v":0.0417,"s":"D300 BC","g":"g8"},
      {"t":"2016-07-25T19:26","v":0.0472,"s":"D300 BC","g":"g8"},
      {"t":"2016-07-25T20:38","v":0.0541,"s":"D300 BC","g":"g8"},
      {"t":"2016-07-25T21:50","v":0.0588,"s":"D300 BC","g":"g8"},
      {"t":"2016-07-25T23:17","v":0.0602,"s":"D300 BC","g":"g8"},
      {"t":"2016-07-26T01:26","v":0.0596,"s":"D300 BC","g":"g8"},
      {"t":"2016-07-26T02:53","v":0.0555,"s":"D300 BC","g":"g8"},
      {"t":"2016-07-26T04:19","v":0.0514,"s":"D300 BC","g":"g8"},
      {"t":"2016-07-26T06:00","v":0.0464,"s":"D300 BC","g":"g8"},
      {"t":"2016-07-26T07:26","v":0.0417,"s":"D300 BC","g":"g8"},
      {"t":"2016-07-26T08:53","v":0.0381,"s":"D300 BC","g":"g8"},
      {"t":"2016-07-26T11:02","v":0.0377,"s":"D300 BC","g":"g8"},
      {"t":"2016-07-26T12:58","v":0.0391,"s":"D300 BC","g":"g8"},
      {"t":"2016-07-26T14:24","v":0.0406,"s":"D300 BC","g":"g8"},

      {"t":"2016-07-12T01:41","v":0.0150,"s":"BC","g":"k1"},
      {"t":"2016-07-12T03:07","v":0.0165,"s":"BC","g":"k1"},
      {"t":"2016-07-12T04:48","v":0.0180,"s":"BC","g":"k1"},
      {"t":"2016-07-12T06:58","v":0.0191,"s":"BC","g":"k1"},
      {"t":"2016-07-12T08:24","v":0.0166,"s":"BC","g":"k1"},
      {"t":"2016-07-12T09:50","v":0.0144,"s":"BC","g":"k1"},
      {"t":"2016-07-12T12:14","v":0.0120,"s":"BC","g":"k1"},
      {"t":"2016-07-12T13:55","v":0.0122,"s":"BC","g":"k1"},
      {"t":"2016-07-12T15:22","v":0.0130,"s":"BC","g":"k1"},
      {"t":"2016-07-12T17:31","v":0.0152,"s":"BC","g":"k1"},
      {"t":"2016-07-12T20:10","v":0.0186,"s":"BC","g":"k1"},
      {"t":"2016-07-12T23:17","v":0.0202,"s":"BC","g":"k1"},
      {"t":"2016-07-13T01:41","v":0.0219,"s":"BC","g":"k1"},
      {"t":"2016-07-13T03:50","v":0.0268,"s":"BC","g":"k1"},
      {"t":"2016-07-13T06:14","v":0.0296,"s":"BC","g":"k1"},
      {"t":"2016-07-13T07:41","v":0.0303,"s":"BC","g":"k1"},
      {"t":"2016-07-13T09:50","v":0.0280,"s":"BC","g":"k1"},
      {"t":"2016-07-13T11:17","v":0.0252,"s":"BC","g":"k1"},
      {"t":"2016-07-13T13:41","v":0.0232,"s":"BC","g":"k1"},
      {"t":"2016-07-13T14:38","v":0.0263,"s":"BC","g":"k1"},
      {"t":"2016-07-13T15:22","v":0.0318,"s":"BC","g":"k1"},
      {"t":"2016-07-13T16:34","v":0.0359,"s":"BC","g":"k1"},
      {"t":"2016-07-13T18:43","v":0.0380,"s":"BC","g":"k1"},
      {"t":"2016-07-13T20:24","v":0.0372,"s":"BC","g":"k1"},
      {"t":"2016-07-13T21:50","v":0.0365,"s":"BC","g":"k1"},
      {"t":"2016-07-13T23:17","v":0.0380,"s":"BC","g":"k1"},
      {"t":"2016-07-14T01:55","v":0.0389,"s":"BC","g":"k1"},
      {"t":"2016-07-14T03:22","v":0.0373,"s":"BC","g":"k1"},
      {"t":"2016-07-14T04:48","v":0.0345,"s":"BC","g":"k1"},
      {"t":"2016-07-14T06:29","v":0.0304,"s":"BC","g":"k1"},
      {"t":"2016-07-14T07:55","v":0.0268,"s":"BC","g":"k1"},
      {"t":"2016-07-14T10:05","v":0.0246,"s":"BC","g":"k1"},
      {"t":"2016-07-14T12:14","v":0.0232,"s":"BC","g":"k1"},
      {"t":"2016-07-14T13:55","v":0.0202,"s":"BC","g":"k1"},
      {"t":"2016-07-14T16:05","v":0.0180,"s":"BC","g":"k1"},
      {"t":"2016-07-14T19:12","v":0.0163,"s":"BC","g":"k1"},
      {"t":"2016-07-14T21:50","v":0.0157,"s":"BC","g":"k1"},
      {"t":"2016-07-14T23:31","v":0.0171,"s":"BC","g":"k1"},
      {"t":"2016-07-15T00:58","v":0.0208,"s":"BC","g":"k1"},
      {"t":"2016-07-15T01:55","v":0.0250,"s":"BC","g":"k1"},
      {"t":"2016-07-15T02:38","v":0.0290,"s":"BC","g":"k1"},
      {"t":"2016-07-15T03:22","v":0.0312,"s":"BC","g":"k1"},
      {"t":"2016-07-15T05:31","v":0.0318,"s":"BC","g":"k1"},
      {"t":"2016-07-15T07:41","v":0.0323,"s":"BC","g":"k1"},
      {"t":"2016-07-15T08:24","v":0.0340,"s":"BC","g":"k1"},
      {"t":"2016-07-15T09:50","v":0.0362,"s":"BC","g":"k1"},
      {"t":"2016-07-22T22:05","v":0.0168,"s":"BC","g":"k2"},
      {"t":"2016-07-23T00:00","v":0.0155,"s":"BC","g":"k2"},
      {"t":"2016-07-23T01:26","v":0.0158,"s":"BC","g":"k2"},
      {"t":"2016-07-23T05:17","v":0.0151,"s":"BC","g":"k2"},
      {"t":"2016-07-23T07:26","v":0.0165,"s":"BC","g":"k2"},
      {"t":"2016-07-23T09:36","v":0.0155,"s":"BC","g":"k2"},
      {"t":"2016-07-23T12:14","v":0.0163,"s":"BC","g":"k2"},
      {"t":"2016-07-23T13:41","v":0.0194,"s":"BC","g":"k2"},
      {"t":"2016-07-23T14:53","v":0.0221,"s":"BC","g":"k2"},
      {"t":"2016-07-23T16:48","v":0.0235,"s":"BC","g":"k2"},
      {"t":"2016-07-23T18:29","v":0.0254,"s":"BC","g":"k2"},
      {"t":"2016-07-23T20:53","v":0.0276,"s":"BC","g":"k2"},
      {"t":"2016-07-23T23:46","v":0.0293,"s":"BC","g":"k2"},
      {"t":"2016-07-24T01:55","v":0.0301,"s":"BC","g":"k2"},
      {"t":"2016-07-24T04:19","v":0.0311,"s":"BC","g":"k2"},
      {"t":"2016-07-24T07:12","v":0.0310,"s":"BC","g":"k2"},
      {"t":"2016-07-24T08:24","v":0.0293,"s":"BC","g":"k2"},
      {"t":"2016-07-24T09:07","v":0.0262,"s":"BC","g":"k2"},
      {"t":"2016-07-24T10:05","v":0.0235,"s":"BC","g":"k2"},
      {"t":"2016-07-24T11:31","v":0.0207,"s":"BC","g":"k2"},
      {"t":"2016-07-24T13:12","v":0.0185,"s":"BC","g":"k2"},
      {"t":"2016-07-24T14:53","v":0.0177,"s":"BC","g":"k2"},
      {"t":"2016-07-24T16:05","v":0.0185,"s":"BC","g":"k2"},
      {"t":"2016-07-24T17:17","v":0.0221,"s":"BC","g":"k2"},
      {"t":"2016-07-24T18:14","v":0.0260,"s":"BC","g":"k2"},
      {"t":"2016-07-24T19:26","v":0.0290,"s":"BC","g":"k2"},
      {"t":"2016-07-24T20:10","v":0.0310,"s":"BC","g":"k2"},
      {"t":"2016-07-24T20:53","v":0.0331,"s":"BC","g":"k2"},
      {"t":"2016-07-24T22:05","v":0.0351,"s":"BC","g":"k2"},
      {"t":"2016-07-24T23:31","v":0.0362,"s":"BC","g":"k2"},
      {"t":"2016-07-25T01:41","v":0.0364,"s":"BC","g":"k2"},
      {"t":"2016-07-25T03:50","v":0.0378,"s":"BC","g":"k2"},
      {"t":"2016-07-25T06:14","v":0.0389,"s":"BC","g":"k2"},
      {"t":"2016-07-25T07:55","v":0.0397,"s":"BC","g":"k2"},
      {"t":"2016-07-25T09:07","v":0.0381,"s":"BC","g":"k2"},
      {"t":"2016-07-25T09:50","v":0.0353,"s":"BC","g":"k2"},
      {"t":"2016-07-25T10:34","v":0.0323,"s":"BC","g":"k2"},
      {"t":"2016-07-25T11:17","v":0.0293,"s":"BC","g":"k2"},
      {"t":"2016-07-25T12:00","v":0.0265,"s":"BC","g":"k2"},
      {"t":"2016-07-25T14:24","v":0.0257,"s":"BC","g":"k2"},
      {"t":"2016-07-25T17:17","v":0.0249,"s":"BC","g":"k2"},
      {"t":"2016-07-25T19:55","v":0.0268,"s":"BC","g":"k2"},
      {"t":"2016-07-25T22:34","v":0.0284,"s":"BC","g":"k2"},
      {"t":"2016-07-26T00:00","v":0.0270,"s":"BC","g":"k2"},
      {"t":"2016-07-26T01:26","v":0.0243,"s":"BC","g":"k2"},
      {"t":"2016-07-26T02:53","v":0.0221,"s":"BC","g":"k2"},
      {"t":"2016-07-26T04:19","v":0.0199,"s":"BC","g":"k2"},
      {"t":"2016-07-26T06:00","v":0.0188,"s":"BC","g":"k2"},
      {"t":"2016-07-26T07:26","v":0.0171,"s":"BC","g":"k2"},
      {"t":"2016-07-26T09:36","v":0.0158,"s":"BC","g":"k2"},
      {"t":"2016-07-26T12:29","v":0.0154,"s":"BC","g":"k2"}
    ]
  },
  "encoding": {
    "color": {
      "field": "s", "type": "nominal",
      "scale": {
        "domain": ["D100","D200","D300","EM","BC","D100 BC","D200 BC","D300 BC"],
        "range": ["#D4002A","#233F88","#1F7623","#050505","#050505","#D4002A","#233F88","#1F7623"]
      },
      "legend": {
        "orient": "none", "legendX": 130, "legendY": 54, "direction": "horizontal",
        "title": null,
        "values": ["D100","D200","D300","EM","BC"],
        "labelExpr": "datum.value == 'D100' ? 'Dᵢₙᵢₜ. = 100 nm' : datum.value == 'D200' ? 'Dᵢₙᵢₜ. = 200 nm' : datum.value == 'D300' ? 'Dᵢₙᵢₜ. = 300 nm' : datum.value",
        "symbolType": "M-2.75,0L2.75,0", "symbolSize": 3600, "symbolStrokeWidth": 15, "symbolOffset": 45,
        "labelFont": "Liberation Sans", "labelFontSize": 64, "labelColor": "#000000", "labelLimit": 2000,
        "labelOffset": 72, "columnPadding": 0, "padding": 33,
        "strokeColor": "#262626", "fillColor": "#ffffff"
      }
    },
    "strokeDash": {
      "field": "s", "type": "nominal",
      "scale": {
        "domain": ["D100","D200","D300","EM","BC","D100 BC","D200 BC","D300 BC"],
        "range": [[1,0],[1,0],[1,0],[1,0],[11,13],[11,13],[11,13],[11,13]]
      },
      "legend": {
        "orient": "none", "legendX": 130, "legendY": 54, "direction": "horizontal",
        "title": null,
        "values": ["D100","D200","D300","EM","BC"],
        "labelExpr": "datum.value == 'D100' ? 'Dᵢₙᵢₜ. = 100 nm' : datum.value == 'D200' ? 'Dᵢₙᵢₜ. = 200 nm' : datum.value == 'D300' ? 'Dᵢₙᵢₜ. = 300 nm' : datum.value",
        "symbolType": "M-2.75,0L2.75,0", "symbolSize": 3600, "symbolStrokeWidth": 15, "symbolOffset": 45,
        "labelFont": "Liberation Sans", "labelFontSize": 64, "labelColor": "#000000", "labelLimit": 2000,
        "labelOffset": 72, "columnPadding": 0, "padding": 33,
        "strokeColor": "#262626", "fillColor": "#ffffff"
      }
    },
    "detail": {"field": "g", "type": "nominal"}
  },
  "layer": [
    {
      "transform": [{"filter": {"field": "s", "oneOf": ["D100","D200","D300"]}}],
      "mark": {"type": "line", "interpolate": "step-after", "strokeWidth": 14},
      "encoding": {
        "x": {"field": "t", "type": "temporal",
          "scale": {"domain": [{"year":2016,"month":7,"date":6},{"year":2016,"month":7,"date":28}], "nice": false},
          "axis": {"orient": "bottom", "title": null, "format": "%d/%m",
            "values": [{"year":2016,"month":7,"date":6},{"year":2016,"month":7,"date":9},{"year":2016,"month":7,"date":12},{"year":2016,"month":7,"date":15},{"year":2016,"month":7,"date":18},{"year":2016,"month":7,"date":21},{"year":2016,"month":7,"date":24},{"year":2016,"month":7,"date":27}],
            "labelFontSize": 74, "labelPadding": 71, "grid": true, "labelFlush": false, "labelLimit": 1000}},
        "y": {"field": "v", "type": "quantitative",
          "scale": {"domain": [0, 0.09], "nice": false},
          "axis": {"orient": "left", "title": "VFR (-)", "titleFontSize": 84, "titlePadding": 30,
            "values": [0, 0.02, 0.04, 0.06, 0.08], "format": "~g",
            "labelFontSize": 74, "labelPadding": 64, "labelOffset": 9, "grid": true}}
      }
    },
    {
      "transform": [{"filter": {"field": "s", "oneOf": ["D100 BC","D200 BC","D300 BC"]}}],
      "mark": {"type": "line", "strokeWidth": 11, "strokeCap": "butt"},
      "encoding": {
        "x": {"field": "t", "type": "temporal",
          "scale": {"domain": [{"year":2016,"month":7,"date":6},{"year":2016,"month":7,"date":28}], "nice": false},
          "axis": null},
        "y": {"field": "v", "type": "quantitative",
          "scale": {"domain": [0, 0.09], "nice": false},
          "axis": null}
      }
    },
    {
      "transform": [{"filter": {"field": "s", "equal": "EM"}}],
      "mark": {"type": "line", "interpolate": "step-after", "strokeWidth": 14},
      "encoding": {
        "x": {"field": "t", "type": "temporal",
          "scale": {"domain": [{"year":2016,"month":7,"date":6},{"year":2016,"month":7,"date":28}], "nice": false},
          "axis": {"orient": "top", "title": null, "labels": false, "grid": false,
            "values": [{"year":2016,"month":7,"date":6},{"year":2016,"month":7,"date":9},{"year":2016,"month":7,"date":12},{"year":2016,"month":7,"date":15},{"year":2016,"month":7,"date":18},{"year":2016,"month":7,"date":21},{"year":2016,"month":7,"date":24},{"year":2016,"month":7,"date":27}]}},
        "y": {"field": "v", "type": "quantitative",
          "scale": {"domain": [0, 0.09], "nice": false},
          "axis": {"orient": "right", "title": "Mass frac. (-)", "titleFontSize": 84, "titleAngle": 270, "titlePadding": 123,
            "values": [0, 0.02, 0.04, 0.06, 0.08], "format": "~g",
            "labelFontSize": 74, "labelPadding": 58, "labelOffset": 9, "grid": false}}
      }
    },
    {
      "transform": [{"filter": {"field": "s", "equal": "BC"}}],
      "mark": {"type": "line", "strokeWidth": 11, "strokeCap": "butt"},
      "encoding": {
        "x": {"field": "t", "type": "temporal",
          "scale": {"domain": [{"year":2016,"month":7,"date":6},{"year":2016,"month":7,"date":28}], "nice": false},
          "axis": null},
        "y": {"field": "v", "type": "quantitative",
          "scale": {"domain": [0, 0.09], "nice": false},
          "axis": null}
      }
    }
  ],
  "resolve": {"axis": {"x": "independent", "y": "independent"}}
}
